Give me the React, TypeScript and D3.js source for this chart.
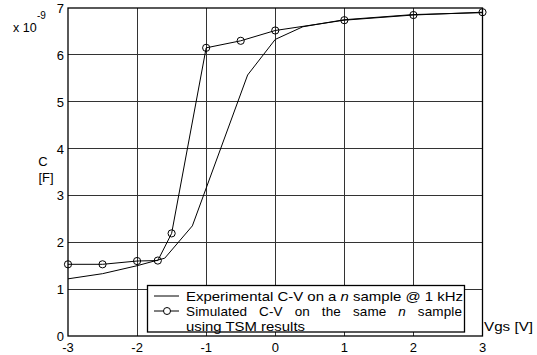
import React from "react";
import * as d3 from "d3";

const xTicks = [-3, -2, -1, 0, 1, 2, 3];
const yTicks = [0, 1, 2, 3, 4, 5, 6, 7];

const expX = [-3, -2.5, -2, -1.6, -1.2, -0.4, 0, 0.4, 1, 2, 3];
const expY = [1.22, 1.33, 1.5, 1.66, 2.35, 5.57, 6.33, 6.6, 6.75, 6.86, 6.9];

const simX = [-3, -2.5, -2, -1.7, -1.5, -1, -0.5, 0, 1, 2, 3];
const simY = [1.53, 1.53, 1.6, 1.61, 2.19, 6.15, 6.3, 6.52, 6.74, 6.85, 6.91];

const legendLabels = [
  "Experimental C-V on a ",
  "Simulated C-V on the same ",
  "using TSM results",
];

export default function App() {
  const W = 537, H = 355;
  const left = 68, right = 482.5, top = 8, bottom = 336;
  const x = d3.scaleLinear().domain([-3, 3]).range([left, right]);
  const y = d3.scaleLinear().domain([0, 7]).range([bottom, top]);
  const mk = (xs: number[], ys: number[]) =>
    d3.line<number>().x((d) => x(d)).y((d, i) => y(ys[i]))(xs) || "";
  const font = "Liberation Sans, Arial, sans-serif";
  return (
    <svg width={W} height={H} style={{ position: "absolute", left: 0, top: 0 }} fontFamily={font}>
      <rect width={W} height={H} fill="#fff" />
      {/* grid */}
      <g stroke="#333" strokeWidth={1} shapeRendering="crispEdges">
        {xTicks.slice(1, -1).map((t) => (
          <line key={"gx" + t} x1={x(t)} x2={x(t)} y1={top} y2={bottom} />
        ))}
        {yTicks.slice(1, -1).map((t) => (
          <line key={"gy" + t} x1={left} x2={right} y1={y(t)} y2={y(t)} />
        ))}
      </g>
      <rect x={left} y={top} width={right - left} height={bottom - top} fill="none" stroke="#000" strokeWidth={1.3} />
      {/* curves */}
      <path d={mk(expX, expY)} fill="none" stroke="#000" strokeWidth={1} />
      <path d={mk(simX, simY)} fill="none" stroke="#000" strokeWidth={1} />
      {simX.map((v, i) => (
        <circle key={"c" + i} cx={x(v)} cy={y(simY[i])} r={3.6} fill="none" stroke="#000" strokeWidth={1} />
      ))}
      {/* tick labels */}
      <g fontSize={13} fill="#000">
        {xTicks.map((t) => (
          <text key={"tx" + t} x={x(t)} y={352} textAnchor="middle">{t}</text>
        ))}
        {yTicks.map((t) => (
          <text key={"ty" + t} x={64} y={y(t) + 5} textAnchor="end">{t}</text>
        ))}
        <text x={13} y={32} fontSize={12.5}>x 10</text>
        <text x={37} y={19} fontSize={10}>-9</text>
        <text x={43} y={166} textAnchor="middle">C</text>
        <text x={46} y={182} textAnchor="middle">[F]</text>
        <text x={484} y={331} textLength={49} lengthAdjust="spacingAndGlyphs">Vgs [V]</text>
      </g>
      {/* legend */}
      <rect x={147.5} y={285.5} width={317} height={46.5} fill="#fff" stroke="#000" strokeWidth={1.3} />
      <line x1={154} x2={179} y1={296} y2={296} stroke="#000" />
      <line x1={154} x2={179} y1={311} y2={311} stroke="#000" />
      <circle cx={167} cy={311} r={3.5} fill="#fff" stroke="#000" />
      <g fontSize={13.5} fill="#000">
        <text x={186} y={300.5} textLength={277} lengthAdjust="spacingAndGlyphs">
          {legendLabels[0]}
          <tspan fontStyle="italic">n</tspan>
          {" sample @ 1 kHz"}
        </text>
        <text x={186} y={315.5} textLength={276} lengthAdjust="spacing" wordSpacing={8}>
          {legendLabels[1]}
          <tspan fontStyle="italic">n</tspan>
          {" sample"}
        </text>
        <text x={186} y={330.5} textLength={119} lengthAdjust="spacingAndGlyphs">{legendLabels[2]}</text>
      </g>
    </svg>
  );
}
